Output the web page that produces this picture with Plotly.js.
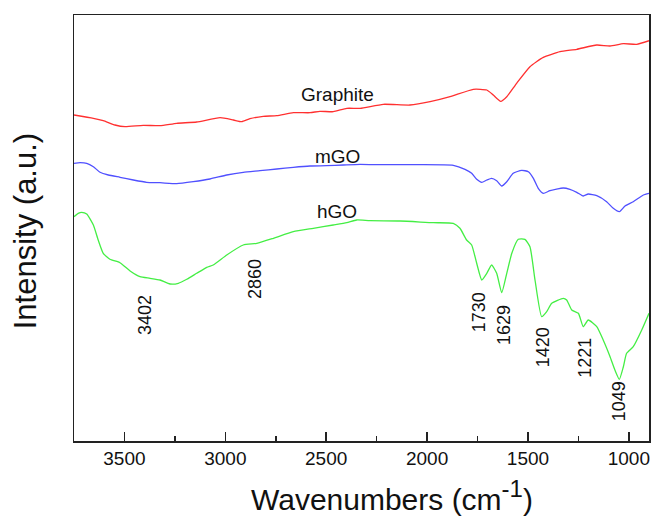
<!DOCTYPE html>
<html>
<head>
<meta charset="utf-8">
<script src="https://cdn.plot.ly/plotly-3.0.1.min.js"></script>
<style>html,body{margin:0;padding:0;background:#fff;}#chart{width:654px;height:519px;}</style>
</head>
<body>
<div id="chart"></div>
<script>
// Wavenumbers (cm-1) and intensities (a.u.)
const graphiteX = [3750,3654,3605,3547,3497,3407,3324,3241,3142,3026,2960,2919,2878,2812,2745,2663,2580,2531,2465,2398,2332,2217,2085,1985,1886,1771,1704,1672,1635,1605,1556,1490,1424,1341,1258,1159,1093,1027,961,900];
const graphiteY = [326,322.7,320.3,316,314.3,315.7,315.3,317.7,319,323.3,321,319.3,322.3,324.7,325.3,328.3,328.3,329.7,329.3,332.7,332.7,336.7,336,339.3,344.3,351.7,351,346,339.7,344.3,357.7,374.3,383.7,389.3,391.7,396,395,397.3,396.7,400.3];

const mgoX = [3750,3720,3687,3654,3621,3580,3522,3456,3390,3324,3241,3159,3076,2993,2911,2828,2745,2663,2580,2498,2415,2332,2217,2051,1870,1812,1779,1754,1729,1704,1680,1655,1630,1605,1573,1531,1498,1473,1449,1424,1391,1325,1292,1258,1226,1201,1159,1110,1077,1047,1019,978,928,900];
const mgoY = [277.7,278.3,277.7,274.3,268.7,266,263.7,261,258.7,258.3,257.3,259.3,262,266,268.7,270.3,272,273.7,275,275.3,276,276.7,276.3,276.3,275.7,271.7,267.7,261.7,258.7,261,262.7,260.3,255,259.3,267.7,270.7,269.3,262.7,252.7,247.7,250.3,253,251.7,248.7,245,247,245.3,239.3,232.7,229.3,235,239.3,246,247.7];

const hgoX = [3750,3729,3712,3687,3654,3630,3605,3572,3522,3472,3423,3373,3324,3274,3233,3191,3142,3092,3060,2993,2911,2844,2762,2663,2564,2465,2398,2349,2283,2134,1969,1870,1837,1804,1779,1754,1729,1704,1680,1655,1630,1605,1580,1548,1515,1490,1465,1432,1407,1382,1325,1308,1283,1250,1226,1201,1159,1127,1093,1069,1047,1027,1011,978,936,900];
const hgoY = [224.3,227.7,228.7,227,216,201,187.7,181.7,178.3,170,164.3,162.7,161,157,157.7,161.7,167.7,173.7,176,186,196,197.7,202.7,209.3,212.7,216,218.3,221,220.3,220,218.3,217.7,212.7,201,196,177.7,161,167.7,176,167.7,148.3,167.7,187.7,201.7,201.7,194.3,161,124.3,129.3,137.7,142.7,141,131,127.7,114.3,121,114.3,101,84.3,71,61.7,74.3,87.7,94.3,111,127.7];

const seriesNames = ["Graphite","mGO","hGO"];
const peakLabels = ["3402","2860","1730","1629","1420","1221","1049"];
const xTickVals = [3500,3000,2500,2000,1500,1000];

const FONT = "Liberation Sans, Arial, sans-serif";

function trace(x, y, color, name) {
  return {x: x, y: y, type: "scatter", mode: "lines", name: name,
    line: {color: color, width: 1.3, shape: "spline", smoothing: 0.5},
    hoverinfo: "skip", showlegend: false};
}

const data = [
  trace(graphiteX, graphiteY, "#ff3030", seriesNames[0]),
  trace(mgoX, mgoY, "#5050ff", seriesNames[1]),
  trace(hgoX, hgoY, "#44ee44", seriesNames[2])
];

// annotation placements (label positions in data coordinates)
const nameAnn = [
  {x: 2446, y: 347}, {x: 2444, y: 285}, {x: 2444, y: 230}
];
const peakAnn = [
  {x: 3398, y: 126}, {x: 2853, y: 162}, {x: 1741, y: 129}, {x: 1619, y: 116},
  {x: 1424, y: 94}, {x: 1221, y: 83.5}, {x: 1047, y: 40}
];

const annotations = [];
seriesNames.forEach((n, i) => annotations.push({
  x: nameAnn[i].x, y: nameAnn[i].y, xref: "x", yref: "y", text: n, showarrow: false,
  font: {family: FONT, size: 19, color: "#111"}, xanchor: "center", yanchor: "middle"
}));
peakLabels.forEach((t, i) => annotations.push({
  x: peakAnn[i].x, y: peakAnn[i].y, xref: "x", yref: "y", text: t, showarrow: false,
  textangle: -90, font: {family: FONT, size: 18, color: "#111"}, xanchor: "center", yanchor: "middle"
}));
annotations.push({
  x: 0.553, y: -0.128, xref: "paper", yref: "paper", showarrow: false,
  text: 'Wavenumbers (cm<sup><span style="font-size:24px">-1</span></sup>)',
  font: {family: FONT, size: 30, color: "#111"}, xanchor: "center", yanchor: "middle"
});
annotations.push({
  x: -0.083, y: 0.493, xref: "paper", yref: "paper", showarrow: false,
  text: "Intensity (a.u.)", textangle: -90,
  font: {family: FONT, size: 31, color: "#111"}, xanchor: "center", yanchor: "middle"
});

const layout = {
  width: 654, height: 519,
  margin: {l: 74, r: 5, t: 15, b: 78},
  paper_bgcolor: "#fff", plot_bgcolor: "#fff",
  font: {family: FONT, color: "#111"},
  xaxis: {
    range: [3750, 900], tickvals: xTickVals, ticktext: xTickVals.map(String),
    ticks: "inside", ticklen: 9, tickwidth: 1.5, tickcolor: "#222",
    minor: {dtick: 250, tick0: 0, ticks: "inside", ticklen: 5, tickwidth: 1.5, tickcolor: "#222"},
    showline: true, linecolor: "#222", linewidth: 1.5, mirror: true,
    showgrid: false, zeroline: false,
    tickfont: {family: FONT, size: 19, color: "#111"}
  },
  yaxis: {
    range: [0, 426], showticklabels: false, ticks: "",
    showline: true, linecolor: "#222", linewidth: 1.5, mirror: true,
    showgrid: false, zeroline: false
  },
  annotations: annotations,
  showlegend: false
};

Plotly.newPlot("chart", data, layout, {staticPlot: true, displayModeBar: false});
</script>
</body>
</html>
